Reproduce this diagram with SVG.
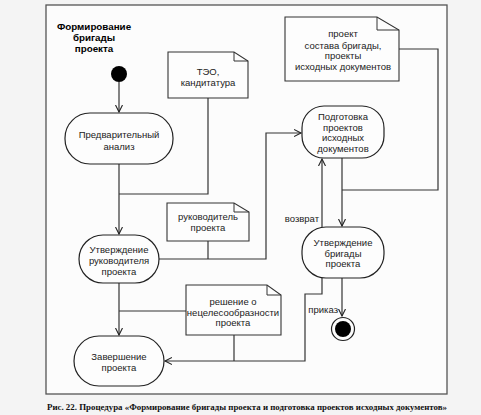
<svg xmlns="http://www.w3.org/2000/svg" width="481" height="415" viewBox="0 0 481 415">
<style>
text{font-family:"Liberation Sans",Arial,sans-serif;font-size:9.5px;fill:#222;text-anchor:middle}
.t{font-weight:bold;fill:#000;font-size:9.8px}
.cap{font-family:"Liberation Serif","Times New Roman",serif;font-weight:bold;font-size:8.6px;text-anchor:start;fill:#111}
.lbl{text-anchor:end}
.node{fill:#fdfdfd;stroke:#222;stroke-width:1.2}
.note{fill:#fdfdfd;stroke:#333;stroke-width:1.1}
.fold{fill:none;stroke:#333;stroke-width:1}
.c path{fill:none;stroke:#333;stroke-width:1.2}
</style>
<defs>
<marker id="a" markerUnits="userSpaceOnUse" markerWidth="10" markerHeight="10" refX="7" refY="4" orient="auto">
<path d="M0,0.5 L7,4 L0,7.5" fill="none" stroke="#222" stroke-width="1.1"/>
</marker>
</defs>
<rect x="0" y="0" width="481" height="415" fill="#f4f4f4"/>
<rect x="46" y="5" width="401" height="389" fill="#fcfcfc" stroke="#555" stroke-width="1.3"/>
<g id="title">
<text class="t" x="94" y="30">Формирование</text>
<text class="t" x="94" y="41">бригады</text>
<text class="t" x="94" y="52">проекта</text>
</g>
<g class="c" id="connectors">
<path d="M119,82 L119,112" marker-end="url(#a)"/>
<path d="M119,164 L119,234" marker-end="url(#a)"/>
<path d="M208,98 L208,194 L119,194"/>
<path d="M159,259 L266,259 L266,133 L301,133" marker-end="url(#a)"/>
<path d="M208,241 L208,259"/>
<path d="M342,158 L342,226" marker-end="url(#a)"/>
<path d="M342,190 L438,190 L438,49 L399,49"/>
<path d="M322,227 L322,159" marker-end="url(#a)"/>
<path d="M342,278 L342,316" marker-end="url(#a)"/>
<path d="M119,283 L119,335" marker-end="url(#a)"/>
<path d="M186,311 L119,311"/>
<path d="M322,278 L322,294 L305,294 L305,361 L165,361" marker-end="url(#a)"/>
<path d="M234,335 L234,361"/>
</g>
<g id="labels">
<text class="lbl" x="319" y="222">возврат</text>
<text class="lbl" x="338" y="313">приказ</text>
</g>
<g id="start"><circle cx="119" cy="74" r="8" fill="#000"/></g>
<g id="n1">
<rect class="node" x="65" y="113" width="108" height="51" rx="25"/>
<text x="119" y="138">Предварительный</text>
<text x="119" y="150">анализ</text>
</g>
<g id="n2">
<rect class="node" x="79" y="235" width="80" height="48" rx="24"/>
<text x="119" y="253">Утверждение</text>
<text x="119" y="264">руководителя</text>
<text x="119" y="275">проекта</text>
</g>
<g id="n3">
<rect class="node" x="302" y="106" width="82" height="52" rx="22"/>
<text x="343" y="120">Подготовка</text>
<text x="343" y="131">проектов</text>
<text x="343" y="141">исходных</text>
<text x="343" y="152">документов</text>
</g>
<g id="n4">
<rect class="node" x="302" y="227" width="82" height="51" rx="24"/>
<text x="343" y="246">Утверждение</text>
<text x="343" y="257">бригады</text>
<text x="343" y="267">проекта</text>
</g>
<g id="n5">
<rect class="node" x="74" y="336" width="90" height="50" rx="25"/>
<text x="119" y="360">Завершение</text>
<text x="119" y="371">проекта</text>
</g>
<g id="end">
<circle cx="343" cy="329" r="11.5" fill="#fdfdfd" stroke="#222" stroke-width="1.2"/>
<circle cx="343" cy="329" r="8" fill="#000"/>
</g>
<g id="note1">
<path class="note" d="M168,52 L234,52 L248,61 L248,98 L168,98 Z"/>
<path class="fold" d="M234,52 L234,61 L248,61"/>
<text x="208" y="75">ТЭО,</text>
<text x="208" y="86">кандитатура</text>
</g>
<g id="note2">
<path class="note" d="M285,17 L377,17 L399,30 L399,81 L285,81 Z"/>
<path class="fold" d="M377,17 L377,30 L399,30"/>
<text x="343" y="37">проект</text>
<text x="343" y="49">состава бригады,</text>
<text x="343" y="59">проекты</text>
<text x="343" y="70">исходных документов</text>
</g>
<g id="note3">
<path class="note" d="M167,203 L234,203 L249,212 L249,241 L167,241 Z"/>
<path class="fold" d="M234,203 L234,212 L249,212"/>
<text x="208" y="220">руководитель</text>
<text x="208" y="231">проекта</text>
</g>
<g id="note4">
<path class="note" d="M186,285 L267,285 L281,295 L281,335 L186,335 Z"/>
<path class="fold" d="M267,285 L267,295 L281,295"/>
<text x="233" y="305">решение о</text>
<text x="233" y="316">нецелесообразности</text>
<text x="233" y="326">проекта</text>
</g>
<text class="cap" x="47" y="410" textLength="400" lengthAdjust="spacingAndGlyphs">Рис. 22. Процедура «Формирование бригады проекта и подготовка проектов исходных документов»</text>
</svg>
